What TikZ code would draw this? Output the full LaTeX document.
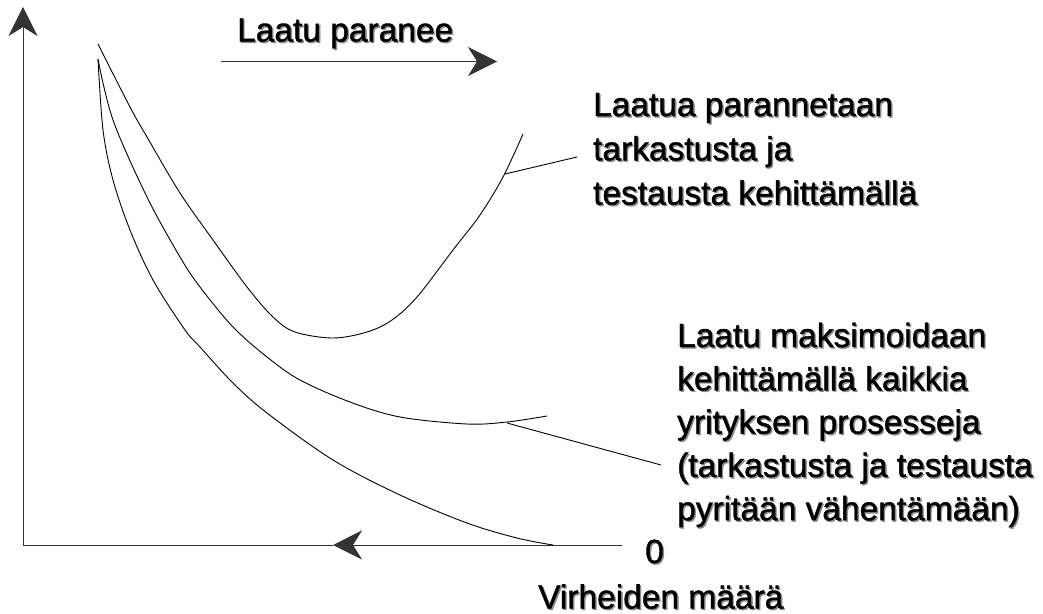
\documentclass[tikz,border=0pt]{standalone}
\usepackage{fontspec}
\setmainfont{Liberation Sans}[RawFeature={embolden=1.2}]
\usetikzlibrary{arrows.meta}
\definecolor{shade}{gray}{0.55}
% text line with a soft grey drop shadow
\newcommand\shl[1]{\hbox{\rlap{\kern1.4pt\lower1.4pt\hbox{\color{shade}#1}}#1}}
\newcommand\block[2]{\vtop{\baselineskip=#1pt\lineskiplimit=-100pt #2}}
\begin{document}
\begin{tikzpicture}[x=1pt,y=-1pt,
  axis/.style={line width=1pt,draw=black!80},
  curve/.style={line width=0.9pt,black,smooth,tension=0.55},
  leader/.style={line width=0.9pt,black},
  bigtip/.style={-{Stealth[length=29pt,width=29pt,inset=9pt]}},
  lbl/.style={anchor=base west,inner sep=0pt,font=\fontsize{33.5}{40}\selectfont}]
\useasboundingbox (0,0) rectangle (1043,613);

% axes
\coordinate (O) at (23,545);
\coordinate (ytop) at (23,7);
\coordinate (xend) at (622,545);
\coordinate (xmid) at (333,545);
\draw[axis,bigtip] (O) -- (ytop);
\draw[axis] (O) -- (xmid);
\draw[axis,bigtip] (xend) -- (xmid);

% quality improves arrow
\coordinate (qa) at (221,61.5);
\coordinate (qb) at (497,61.5);
\draw[axis,bigtip] (qa) -- (qb);

% curves
\draw[curve] plot coordinates {(98,44) (130,107) (147,137) (180,193) (213,240)
  (247,287) (273,317) (295,332) (333,338) (367,332) (392,320) (417,297)
  (453,250) (480,215) (503,177) (523,134)};
\draw[curve] plot coordinates {(98,59) (113,120) (147,197) (180,257) (200,287)
  (233,327) (267,357) (300,380) (350,402) (400,417) (467,424) (507,422) (547,416)};
\draw[curve] plot coordinates {(98,59) (103,130) (113,180) (130,230) (153,280)
  (185,330) (200,347) (233,383) (267,413) (333,460) (400,495) (467,523)
  (517,538) (553,545)};

% labels
\node[lbl] (title) at (237,41.5) {\shl{Laatu paranee}};
\node[lbl] (zero) at (645,563) {\shl{0}};
\node[lbl] (xlab) at (538,608.5) {\shl{Virheiden määrä}};
\node[lbl] (upper) at (593,116) {\block{44.3}{\shl{Laatua parannetaan}\shl{tarkastusta ja}\shl{testausta kehittämällä}}};
\node[lbl] (lower) at (677,347) {\block{43.3}{\shl{Laatu maksimoidaan}\shl{kehittämällä kaikkia}\shl{yrityksen prosesseja}\shl{(tarkastusta ja testausta}\shl{pyritään vähentämään)}}};

% leader lines
\coordinate (u1) at (505,174);
\coordinate (u2) at (577,157);
\coordinate (l1) at (507,423);
\coordinate (l2) at (661,465);
\draw[leader] (u1) -- (u2);
\draw[leader] (l1) -- (l2);
\end{tikzpicture}
\end{document}
